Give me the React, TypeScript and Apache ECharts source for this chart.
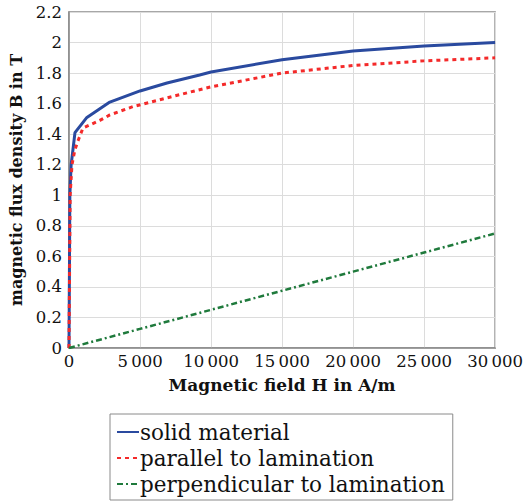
import React, { useEffect, useRef } from "react";
import * as echarts from "echarts";

const solidH = [0, 60, 150, 280, 420, 1260, 2875, 5000, 6900, 9200, 10000, 15000, 20000, 25000, 30000];
const solidB = [0, 1.0, 1.2, 1.3, 1.41, 1.51, 1.61, 1.683, 1.735, 1.788, 1.807, 1.888, 1.945, 1.978, 2.0];

const parallelH = [0, 80, 210, 420, 650, 980, 2170, 2875, 4490, 6870, 10000, 15000, 20000, 25000, 30000];
const parallelB = [0, 1.0, 1.2, 1.3, 1.36, 1.44, 1.49, 1.526, 1.58, 1.637, 1.71, 1.8, 1.85, 1.88, 1.9];

const perpH = [0, 5000, 10000, 15000, 20000, 25000, 30000];
const perpB = [0, 0.125, 0.25, 0.375, 0.5, 0.625, 0.75];

const seriesNames = ["solid material", "parallel to lamination", "perpendicular to lamination"];
const xTitle = "Magnetic field H in A/m";
const yTitle = "magnetic flux density B in T";

const FONT = "'DejaVu Serif', serif";

const zip = (xs: number[], ys: number[]) => xs.map((x, i) => [x, ys[i]]);

export default function App() {
  const ref = useRef<HTMLDivElement>(null);
  useEffect(() => {
    if (!ref.current) return;
    const chart = echarts.init(ref.current, null, { renderer: "svg" });
    chart.setOption({
      animation: false,
      backgroundColor: "#fff",
      grid: {
        left: 69,
        right: 29,
        top: 12,
        bottom: 154,
        show: true,
        borderColor: "#8a8a8a",
        borderWidth: 1.5,
      },
      legend: {
        orient: "vertical",
        left: 110,
        top: 414,
        data: seriesNames,
        borderColor: "#8a8a8a",
        borderWidth: 1,
        padding: [6, 8, 4, 6],
        itemGap: 2,
        itemWidth: 22,
        itemHeight: 14,
        itemStyle: { opacity: 0 },
        textStyle: { fontFamily: FONT, fontSize: 21.5, color: "#111", padding: [0, 0, 0, -4], lineHeight: 24 },
      },
      xAxis: {
        type: "value",
        min: 0,
        max: 30000,
        interval: 5000,
        name: xTitle,
        nameLocation: "middle",
        nameGap: 28,
        nameTextStyle: { fontFamily: FONT, fontSize: 17, fontWeight: "bold", color: "#111" },
        axisLine: { show: true, lineStyle: { color: "#8a8a8a", width: 1.5 } },
        axisTick: { show: false },
        splitLine: { show: true, lineStyle: { color: "#dcdcdc", width: 1 } },
        axisLabel: {
          fontFamily: FONT,
          fontSize: 16.5,
          color: "#111",
          margin: 5,
          formatter: (v: number) => (v >= 1000 ? Math.floor(v / 1000) + "\u2009" + String(v % 1000).padStart(3, "0") : String(v)),
        },
      },
      yAxis: {
        type: "value",
        min: 0,
        max: 2.2,
        interval: 0.2,
        name: yTitle,
        nameLocation: "middle",
        nameGap: 45,
        nameTextStyle: { fontFamily: FONT, fontSize: 16, fontWeight: "bold", color: "#111" },
        axisLine: { show: true, lineStyle: { color: "#8a8a8a", width: 1.5 } },
        axisTick: { show: false },
        splitLine: { show: true, lineStyle: { color: "#dcdcdc", width: 1 } },
        axisLabel: {
          fontFamily: FONT,
          fontSize: 16.5,
          color: "#111",
          margin: 7,
          formatter: (v: number) => String(Math.round(v * 10) / 10),
        },
      },
      series: [
        {
          name: seriesNames[0],
          type: "line",
          data: zip(solidH, solidB),
          showSymbol: false,
          symbol: "none",
          lineStyle: { color: "#2a4a9f", width: 3 },
          itemStyle: { color: "#2a4a9f" },
        },
        {
          name: seriesNames[1],
          type: "line",
          data: zip(parallelH, parallelB),
          showSymbol: false,
          symbol: "none",
          lineStyle: { color: "#f42a2a", width: 3, type: [4, 4] },
          itemStyle: { color: "#f42a2a" },
        },
        {
          name: seriesNames[2],
          type: "line",
          data: zip(perpH, perpB),
          showSymbol: false,
          symbol: "none",
          lineStyle: { color: "#1f7a3c", width: 2.5, type: [6, 3, 2, 3] },
          itemStyle: { color: "#1f7a3c" },
        },
      ],
    });
    return () => chart.dispose();
  }, []);
  return <div ref={ref} style={{ width: 526, height: 502, position: "absolute", left: 0, top: 0 }} />;
}
